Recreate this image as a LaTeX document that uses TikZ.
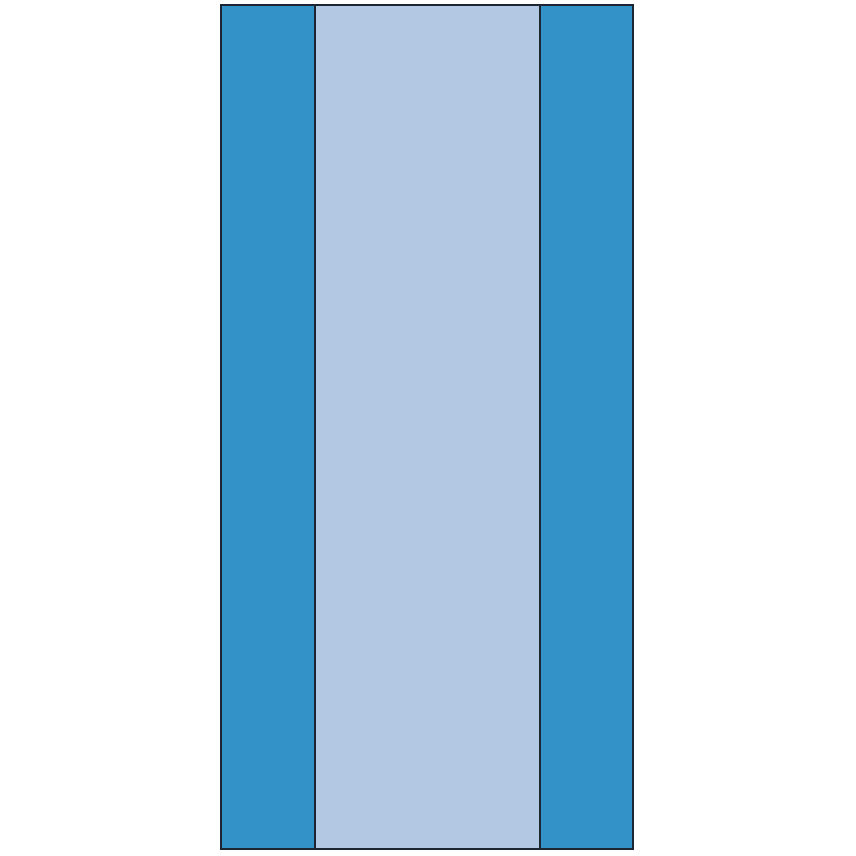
\documentclass[tikz,border=0pt]{standalone}
\begin{document}
\begin{tikzpicture}[x=1pt,y=-1pt,
  band/.style={fill=bandblue,draw=edgecol,line width=2pt},
  core/.style={fill=coreblue,draw=edgecol,line width=2pt}]
\definecolor{bandblue}{HTML}{3393C8}
\definecolor{coreblue}{HTML}{B3C8E3}
\definecolor{edgecol}{HTML}{1C2633}
\useasboundingbox (0,0) rectangle (856,856);
\draw[band] (221,5) rectangle (315,849);
\draw[band] (540,5) rectangle (633,849);
\draw[core] (315,5) rectangle (540,849);
\end{tikzpicture}
\end{document}
